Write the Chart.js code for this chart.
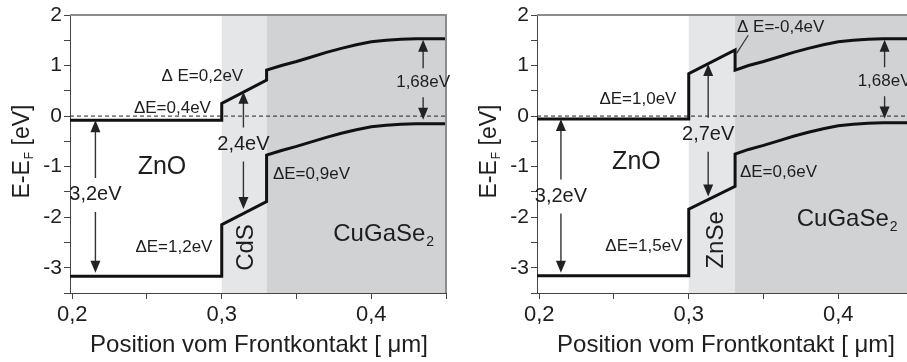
<!DOCTYPE html>
<html>
<head>
<meta charset="utf-8">
<script src="https://cdn.jsdelivr.net/npm/chart.js@4.4.0/dist/chart.umd.min.js"></script>
<style>
  html, body { margin: 0; padding: 0; background: #fff; overflow: hidden; }
  #wrap { position: relative; width: 907px; height: 362px; overflow: hidden; }
  .box { position: absolute; top: 0; width: 467px; height: 362px; }
</style>
</head>
<body>
<div id="wrap">
  <div class="box" style="left:0"><canvas id="cdsChart"></canvas></div>
  <div class="box" style="left:467px"><canvas id="znseChart"></canvas></div>
</div>
<script>
// axis ticks
const xTicks = [0.2, 0.25, 0.3, 0.35, 0.4, 0.45];
const xTickLabels = { 0.2: '0,2', 0.3: '0,3', 0.4: '0,4' };
const yTicks = [-3.5, -3, -2.5, -2, -1.5, -1, -0.5, 0, 0.5, 1, 1.5, 2];

// CdS buffer (left panel) - conduction band and valence band
const cdsX  = [0.1985, 0.3, 0.3, 0.33, 0.33, 0.34, 0.35, 0.36, 0.37, 0.38, 0.39, 0.40, 0.41, 0.42, 0.43, 0.45];
const cdsCB = [-0.08, -0.08, 0.25, 0.71, 0.91, 1.00, 1.08, 1.17, 1.26, 1.34, 1.41, 1.47, 1.50, 1.52, 1.53, 1.53];
const cdsVB = [-3.17, -3.17, -2.15, -1.69, -0.77, -0.68, -0.60, -0.51, -0.42, -0.34, -0.27, -0.21, -0.18, -0.16, -0.15, -0.15];

// ZnSe buffer (right panel)
const znseX  = [0.1985, 0.3, 0.3, 0.331, 0.331, 0.34, 0.35, 0.36, 0.37, 0.38, 0.39, 0.40, 0.41, 0.42, 0.43, 0.45];
const znseCB = [-0.06, -0.06, 0.84, 1.31, 0.91, 1.00, 1.08, 1.17, 1.26, 1.34, 1.41, 1.47, 1.50, 1.52, 1.53, 1.53];
const znseVB = [-3.16, -3.16, -1.84, -1.39, -0.75, -0.66, -0.58, -0.49, -0.40, -0.32, -0.25, -0.19, -0.16, -0.14, -0.13, -0.13];

// layer regions [from, to]
const cdsLayers  = { buffer: [0.3, 0.33], absorber: [0.33, 0.45] };
const znseLayers = { buffer: [0.3, 0.331], absorber: [0.331, 0.45] };

// double arrows: x, top tip, bottom tip, label y
const cdsGaps = [
  { text: '3,2eV', x: 0.2155, top: -0.08, bot: -3.10, ty: -1.56, size: 20 },
  { text: '2,4eV', x: 0.3145, top: 0.48, bot: -1.84, ty: -0.56, size: 20 },
  { text: '1,68eV', x: 0.4347, top: 1.51, bot: -0.07, ty: 0.66, size: 17 }
];
const znseGaps = [
  { text: '3,2eV', x: 0.2145, top: -0.06, bot: -3.10, ty: -1.59, size: 20 },
  { text: '2,7eV', x: 0.313, top: 1.03, bot: -1.59, ty: -0.37, size: 20 },
  { text: '1,68eV', x: 0.431, top: 1.51, bot: -0.05, ty: 0.68, size: 17 }
];

// offsets and material names
const cdsLabels = [
  { text: 'ΔE=0,4eV', x: 0.267, y: 0.16, size: 17 },
  { text: 'Δ E=0,2eV', x: 0.287, y: 0.79, size: 17 },
  { text: 'ΔE=0,9eV', x: 0.360, y: -1.16, size: 17 },
  { text: 'ΔE=1,2eV', x: 0.268, y: -2.59, size: 17 },
  { text: 'ZnO', x: 0.260, y: -1.0, size: 25 },
  { text: 'CuGaSe', sub: '2', x: 0.408, y: -2.35, size: 24 },
  { text: 'CdS', x: 0.3167, y: -2.6, size: 24, rot: true }
];
const znseLabels = [
  { text: 'ΔE=1,0eV', x: 0.266, y: 0.33, size: 17 },
  { text: 'Δ E=-0,4eV', x: 0.3615, y: 1.76, size: 17 },
  { text: 'ΔE=0,6eV', x: 0.360, y: -1.12, size: 17 },
  { text: 'ΔE=1,5eV', x: 0.270, y: -2.57, size: 17 },
  { text: 'ZnO', x: 0.265, y: -0.91, size: 25 },
  { text: 'CuGaSe', sub: '2', x: 0.4056, y: -2.05, size: 24 },
  { text: 'ZnSe', x: 0.3187, y: -2.45, size: 24, rot: true }
];
const znseLeader = [{ x: 0.332, y: 1.24 }, { x: 0.3398, y: 1.6 }];

const FONT = '"Liberation Sans", Arial, sans-serif';
const INK = '#1e1e1e';

function pts(xs, ys) {
  return xs.map((x, i) => ({ x: x, y: ys[i] }));
}

function arrowHead(ctx, x, y, dir) {
  // dir -1: pointing up, 1: pointing down
  ctx.beginPath();
  ctx.moveTo(x, y);
  ctx.lineTo(x - 5, y - dir * 12);
  ctx.lineTo(x + 5, y - dir * 12);
  ctx.closePath();
  ctx.fill();
}

const bandPlugin = {
  id: 'band',
  beforeDatasetsDraw(chart, args, opts) {
    const { ctx, chartArea: a, scales: { x, y } } = chart;
    ctx.save();
    ctx.fillStyle = '#e5e6e8';
    let l = opts.layers.buffer;
    ctx.fillRect(x.getPixelForValue(l[0]), a.top, x.getPixelForValue(l[1]) - x.getPixelForValue(l[0]), a.bottom - a.top);
    ctx.fillStyle = '#d1d2d4';
    l = opts.layers.absorber;
    ctx.fillRect(x.getPixelForValue(l[0]), a.top, x.getPixelForValue(l[1]) - x.getPixelForValue(l[0]), a.bottom - a.top);
    ctx.restore();
  },
  afterDatasetsDraw(chart, args, opts) {
    const { ctx, chartArea: a, scales: { x, y } } = chart;
    ctx.save();
    // frame top + right
    ctx.strokeStyle = '#8c8c8c';
    ctx.lineWidth = 2;
    ctx.beginPath();
    ctx.moveTo(a.left, a.top);
    ctx.lineTo(a.right, a.top);
    ctx.lineTo(a.right, a.bottom);
    ctx.stroke();

    // gap arrows
    ctx.strokeStyle = '#333';
    ctx.fillStyle = '#222';
    ctx.lineWidth = 1.4;
    opts.gaps.forEach(g => {
      const px = x.getPixelForValue(g.x);
      const t = y.getPixelForValue(g.top);
      const b = y.getPixelForValue(g.bot);
      const m = y.getPixelForValue(g.ty);
      const h = g.size * 0.85;
      ctx.beginPath();
      ctx.moveTo(px, t + 8);
      ctx.lineTo(px, m - h);
      ctx.moveTo(px, m + h);
      ctx.lineTo(px, b - 8);
      ctx.stroke();
      arrowHead(ctx, px, t, -1);
      arrowHead(ctx, px, b, 1);
      ctx.font = g.size + 'px ' + FONT;
      ctx.textAlign = 'center';
      ctx.textBaseline = 'middle';
      ctx.fillStyle = INK;
      ctx.fillText(g.text, px, m);
      ctx.fillStyle = '#222';
    });

    if (opts.leader) {
      ctx.beginPath();
      ctx.lineWidth = 1.2;
      ctx.moveTo(x.getPixelForValue(opts.leader[0].x), y.getPixelForValue(opts.leader[0].y));
      ctx.lineTo(x.getPixelForValue(opts.leader[1].x), y.getPixelForValue(opts.leader[1].y));
      ctx.stroke();
    }

    // text labels
    ctx.fillStyle = INK;
    ctx.textBaseline = 'middle';
    opts.labels.forEach(lb => {
      const px = x.getPixelForValue(lb.x);
      const py = y.getPixelForValue(lb.y);
      ctx.font = lb.size + 'px ' + FONT;
      if (lb.rot) {
        ctx.save();
        ctx.translate(px, py);
        ctx.rotate(-Math.PI / 2);
        ctx.textAlign = 'center';
        ctx.fillText(lb.text, 0, 0);
        ctx.restore();
      } else if (lb.sub) {
        const w1 = ctx.measureText(lb.text).width;
        ctx.font = Math.round(lb.size * 0.6) + 'px ' + FONT;
        const w2 = ctx.measureText(lb.sub).width;
        const x0 = px - (w1 + w2) / 2;
        ctx.textAlign = 'left';
        ctx.fillText(lb.sub, x0 + w1 + 1, py + lb.size * 0.3);
        ctx.font = lb.size + 'px ' + FONT;
        ctx.fillText(lb.text, x0, py);
      } else {
        ctx.textAlign = 'center';
        ctx.fillText(lb.text, px, py);
      }
    });

    // axis titles
    ctx.textAlign = 'center';
    ctx.textBaseline = 'middle';
    ctx.font = '24px ' + FONT;
    ctx.fillText('Position vom Frontkontakt [ μm]', 259, 345);

    ctx.save();
    ctx.translate(23, 152);
    ctx.rotate(-Math.PI / 2);
    ctx.font = '23px ' + FONT;
    const p1 = 'E-E', p2 = 'F', p3 = ' [eV]';
    const w1 = ctx.measureText(p1).width, w3 = ctx.measureText(p3).width;
    ctx.font = '12px ' + FONT;
    const w2 = ctx.measureText(p2).width;
    let x0 = -(w1 + w2 + w3) / 2;
    ctx.textAlign = 'left';
    ctx.fillText(p2, x0 + w1 + 1, 7);
    ctx.font = '23px ' + FONT;
    ctx.fillText(p1, x0, 0);
    ctx.fillText(p3, x0 + w1 + w2 + 1, 0);
    ctx.restore();

    ctx.restore();
  }
};

function makeChart(id, xs, cb, vb, cfg) {
  const line = { borderColor: '#111', borderWidth: 3, pointRadius: 0, showLine: true, fill: false, tension: 0 };
  return new Chart(document.getElementById(id), {
    type: 'scatter',
    data: {
      datasets: [
        Object.assign({ label: 'Fermi', data: [{ x: 0.1985, y: 0 }, { x: 0.45, y: 0 }], borderColor: '#222', borderWidth: 1, borderDash: [4, 3], pointRadius: 0, showLine: true }),
        Object.assign({ label: 'CB', data: pts(xs, cb) }, line),
        Object.assign({ label: 'VB', data: pts(xs, vb) }, line)
      ]
    },
    options: {
      responsive: false,
      animation: false,
      layout: { padding: { left: 0, top: 15, right: 21, bottom: 0 } },
      plugins: {
        legend: { display: false },
        tooltip: { enabled: false },
        band: cfg
      },
      scales: {
        x: {
          type: 'linear', min: 0.1985, max: 0.45,
          afterBuildTicks: s => { s.ticks = xTicks.map(v => ({ value: v })); },
          afterFit: s => { s.height = 69; },
          ticks: {
            autoSkip: false, maxRotation: 0, padding: 3, color: INK,
            font: { family: FONT, size: 22 },
            callback: v => xTickLabels[v] || ''
          },
          grid: { drawOnChartArea: false, tickLength: 6, color: '#444' },
          border: { color: '#444', width: 1 }
        },
        y: {
          type: 'linear', min: -3.5, max: 2,
          afterBuildTicks: s => { s.ticks = yTicks.map(v => ({ value: v })); },
          afterFit: s => { s.width = 70; },
          ticks: {
            autoSkip: false, padding: 2, color: INK,
            font: { family: FONT, size: 21 },
            callback: v => Number.isInteger(v) ? String(v) : ''
          },
          grid: { drawOnChartArea: false, tickLength: 6, color: '#444' },
          border: { color: '#444', width: 1 }
        }
      }
    },
    plugins: [bandPlugin]
  });
}

const c1 = document.getElementById('cdsChart');
c1.width = 467; c1.height = 362;
const c2 = document.getElementById('znseChart');
c2.width = 467; c2.height = 362;

makeChart('cdsChart', cdsX, cdsCB, cdsVB, { layers: cdsLayers, gaps: cdsGaps, labels: cdsLabels });
makeChart('znseChart', znseX, znseCB, znseVB, { layers: znseLayers, gaps: znseGaps, labels: znseLabels, leader: znseLeader });
</script>
</body>
</html>
